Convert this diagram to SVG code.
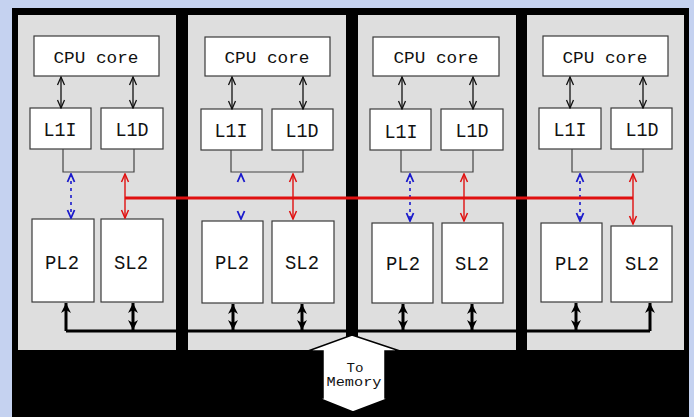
<svg xmlns="http://www.w3.org/2000/svg" width="694" height="417" viewBox="0 0 694 417">
<style>
.panel{fill:#dedede}
.box{fill:#fff;stroke:#3a3a3a;stroke-width:1.2}
.t{font-family:"Liberation Mono","Courier New",monospace;fill:#111;text-anchor:middle}
.cpu{font-size:17px}
.big{font-size:20px}
.brk{fill:none;stroke:#444;stroke-width:1.2}
.ab{stroke:#111;stroke-width:1.3;fill:none;marker-start:url(#hk);marker-end:url(#hk)}
.blue{stroke:#1a1acc;stroke-width:1.6;stroke-dasharray:3 4;fill:none;marker-start:url(#hb);marker-end:url(#hb)}
.bluen{stroke:none;fill:none;marker-start:url(#hb);marker-end:url(#hb)}
.red{stroke:#e01010;stroke-width:1.4;fill:none;marker-start:url(#hr);marker-end:url(#hr)}
.thick{stroke:#000;stroke-width:3;fill:none;marker-start:url(#ht);marker-end:url(#ht)}
.thick1{stroke:#000;stroke-width:3;fill:none;marker-end:url(#ht)}
</style>
<defs>
<marker id="hk" viewBox="-1 -5 10 10" refX="8" refY="0" markerWidth="10" markerHeight="10" markerUnits="userSpaceOnUse" orient="auto-start-reverse"><path d="M0,-3.5 L8,0 L0,3.5" fill="none" stroke="#111" stroke-width="1.3"/></marker>
<marker id="hb" viewBox="-1 -5 10 10" refX="8" refY="0" markerWidth="10" markerHeight="10" markerUnits="userSpaceOnUse" orient="auto-start-reverse"><path d="M0,-3.5 L8,0 L0,3.5" fill="none" stroke="#1a1acc" stroke-width="1.8"/></marker>
<marker id="hr" viewBox="-1 -5 10 10" refX="8" refY="0" markerWidth="10" markerHeight="10" markerUnits="userSpaceOnUse" orient="auto-start-reverse"><path d="M0,-3.5 L8,0 L0,3.5" fill="none" stroke="#e01010" stroke-width="1.5"/></marker>
<marker id="ht" viewBox="-1 -6 12 12" refX="10" refY="0" markerWidth="12" markerHeight="12" markerUnits="userSpaceOnUse" orient="auto-start-reverse"><path d="M0,-5 L10,0 L0,5 L3,0 z" fill="#000"/></marker>
</defs>
<rect x="0" y="0" width="694" height="417" fill="#c5d2f0"/>
<rect x="12" y="8" width="677" height="409" fill="#000"/>
<rect class="panel" x="18" y="15" width="158" height="335"/>
<rect class="panel" x="188" y="15" width="158" height="335"/>
<rect class="panel" x="358" y="15" width="158" height="335"/>
<rect class="panel" x="527" y="15" width="157" height="335"/>

<g id="core1">
<g id="cpu1"><rect class="box" x="34" y="36" width="125" height="40"/><text class="t cpu" x="96" y="63" textLength="85" lengthAdjust="spacingAndGlyphs">CPU core</text></g>
<g id="l1i1"><rect class="box" x="30" y="108" width="61" height="41"/><text class="t big" x="60" y="136" textLength="33" lengthAdjust="spacingAndGlyphs">L1I</text></g>
<g id="l1d1"><rect class="box" x="101" y="108" width="62" height="41"/><text class="t big" x="132" y="136" textLength="33" lengthAdjust="spacingAndGlyphs">L1D</text></g>
<g id="pl21"><rect class="box" x="32" y="219" width="62" height="83"/><text class="t big" x="62" y="269" textLength="34" lengthAdjust="spacingAndGlyphs">PL2</text></g>
<g id="sl21"><rect class="box" x="101" y="219" width="62" height="83"/><text class="t big" x="131" y="269" textLength="34" lengthAdjust="spacingAndGlyphs">SL2</text></g>
</g>

<g id="core2">
<g id="cpu2"><rect class="box" x="205" y="37" width="125" height="39"/><text class="t cpu" x="267" y="63" textLength="85" lengthAdjust="spacingAndGlyphs">CPU core</text></g>
<g id="l1i2"><rect class="box" x="201" y="109" width="61" height="41"/><text class="t big" x="231" y="137" textLength="33" lengthAdjust="spacingAndGlyphs">L1I</text></g>
<g id="l1d2"><rect class="box" x="272" y="109" width="61" height="41"/><text class="t big" x="302" y="137" textLength="33" lengthAdjust="spacingAndGlyphs">L1D</text></g>
<g id="pl22"><rect class="box" x="202" y="221" width="61" height="82"/><text class="t big" x="232" y="269" textLength="34" lengthAdjust="spacingAndGlyphs">PL2</text></g>
<g id="sl22"><rect class="box" x="272" y="221" width="62" height="82"/><text class="t big" x="302" y="269" textLength="34" lengthAdjust="spacingAndGlyphs">SL2</text></g>
</g>

<g id="core3">
<g id="cpu3"><rect class="box" x="373" y="37" width="126" height="39"/><text class="t cpu" x="436" y="63" textLength="85" lengthAdjust="spacingAndGlyphs">CPU core</text></g>
<g id="l1i3"><rect class="box" x="370" y="109" width="61" height="41"/><text class="t big" x="401" y="138" textLength="33" lengthAdjust="spacingAndGlyphs">L1I</text></g>
<g id="l1d3"><rect class="box" x="441" y="109" width="62" height="41"/><text class="t big" x="472" y="137" textLength="33" lengthAdjust="spacingAndGlyphs">L1D</text></g>
<g id="pl23"><rect class="box" x="372" y="223" width="61" height="80"/><text class="t big" x="403" y="270" textLength="34" lengthAdjust="spacingAndGlyphs">PL2</text></g>
<g id="sl23"><rect class="box" x="442" y="223" width="61" height="80"/><text class="t big" x="472" y="270" textLength="34" lengthAdjust="spacingAndGlyphs">SL2</text></g>
</g>

<g id="core4">
<g id="cpu4"><rect class="box" x="543" y="36" width="125" height="40"/><text class="t cpu" x="605" y="63" textLength="85" lengthAdjust="spacingAndGlyphs">CPU core</text></g>
<g id="l1i4"><rect class="box" x="539" y="108" width="62" height="41"/><text class="t big" x="570" y="136" textLength="33" lengthAdjust="spacingAndGlyphs">L1I</text></g>
<g id="l1d4"><rect class="box" x="611" y="108" width="61" height="41"/><text class="t big" x="642" y="136" textLength="33" lengthAdjust="spacingAndGlyphs">L1D</text></g>
<g id="pl24"><rect class="box" x="541" y="223" width="61" height="79"/><text class="t big" x="572" y="270" textLength="34" lengthAdjust="spacingAndGlyphs">PL2</text></g>
<g id="sl24"><rect class="box" x="611" y="226" width="61" height="76"/><text class="t big" x="642" y="270" textLength="34" lengthAdjust="spacingAndGlyphs">SL2</text></g>
</g>

<g id="memory">
<polygon points="352,335 400,351 385,351 385,398 390,398 353,412 318,398 323,398 323,351 308,351" fill="#fff" stroke="#000" stroke-width="1.5"/>
<text class="t" x="355" y="372" font-size="12" textLength="17" lengthAdjust="spacingAndGlyphs">To</text>
<text class="t" x="354" y="386" font-size="12" textLength="55" lengthAdjust="spacingAndGlyphs">Memory</text>
</g>

<g id="connectors">
<path class="brk" d="M63,149 V172 H134 V149"/>
<path class="brk" d="M231,150 V172 H303 V150"/>
<path class="brk" d="M401,150 V172 H473 V150"/>
<path class="brk" d="M572,149 V172 H643 V149"/>

<path class="ab" d="M61,77 V108"/>
<path class="ab" d="M133,77 V108"/>
<path class="ab" d="M232,77 V109"/>
<path class="ab" d="M303,77 V109"/>
<path class="ab" d="M402,77 V109"/>
<path class="ab" d="M473,77 V109"/>
<path class="ab" d="M570,77 V108"/>
<path class="ab" d="M643,77 V108"/>

<path class="blue" d="M71,174 V218"/>
<path class="bluen" d="M241,174 V219"/>
<path class="blue" d="M410,174 V221"/>
<path class="blue" d="M580,174 V221"/>

<path d="M125,198 H633" stroke="#e01010" stroke-width="3" fill="none"/>
<path class="red" d="M125,174 V218"/>
<path class="red" d="M293,174 V219"/>
<path class="red" d="M464,174 V221"/>
<path class="red" d="M633,174 V224"/>

<path d="M66,331 H650" stroke="#000" stroke-width="3" fill="none"/>
<path class="thick1" d="M66,331 V303"/>
<path class="thick" d="M133,330 V303"/>
<path class="thick" d="M233,330 V304"/>
<path class="thick" d="M302,330 V304"/>
<path class="thick" d="M403,330 V304"/>
<path class="thick" d="M472,330 V304"/>
<path class="thick" d="M576,330 V303"/>
<path class="thick1" d="M650,331 V303"/>
</g>
</svg>
